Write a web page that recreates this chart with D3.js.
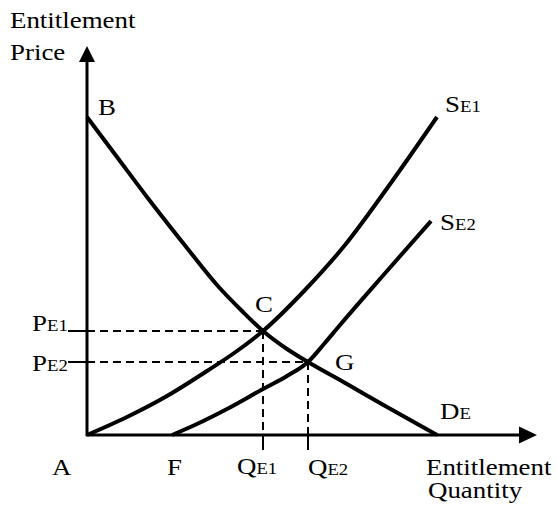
<!DOCTYPE html>
<html>
<head>
<meta charset="utf-8">
<script src="https://cdn.jsdelivr.net/npm/d3@7"></script>
<style>
  html, body { margin: 0; padding: 0; background: #fff; }
  svg { display: block; }
  text { font-family: "Liberation Serif", "Times New Roman", serif; fill: #000; }
</style>
</head>
<body>
<div id="chart"></div>
<script>
// ---- Data (quantity, price) in chart units ----
const demandDE = [[0,318],[30,278],[60,238],[100,187],[130,150],[155,124],[176,104],[200,86],[221,73],[260,51],[300,28],[350,0]];
const supplySE1 = [[0,0],[40,18],[80,39],[120,64],[150,84],[176,104],[218,145],[258,190],[301,248],[350,318]];
const supplySE2 = [[85,0],[110,11],[140,26],[176,46],[200,59],[221,73],[237,91],[253,110],[300,164],[344,214]];
const equilibria = [
  { name: "C", q: 176, p: 104 },
  { name: "G", q: 221, p: 73 }
];
const xDomain = [0, 450];
const yDomain = [0, 389];

// ---- Layout ----
const W = 556, H = 509;
const x = d3.scaleLinear().domain(xDomain).range([87, 537]);
const y = d3.scaleLinear().domain(yDomain).range([435, 46]);
const SX = 1.17, FS = 23, FSsub = 16;

const svg = d3.select("#chart").append("svg").attr("width", W).attr("height", H);

function label(px, py, main, sub) {
  const t = svg.append("text")
    .attr("transform", `translate(${px},${py}) scale(${SX},1)`)
    .attr("font-size", FS);
  t.append("tspan").text(main);
  if (sub) t.append("tspan").attr("font-size", FSsub).text(sub);
  return t;
}

// dashed guides and ticks
equilibria.forEach(e => {
  svg.append("line").attr("x1", x(0)).attr("x2", x(e.q)).attr("y1", y(e.p)).attr("y2", y(e.p))
    .attr("stroke", "#000").attr("stroke-width", 2).attr("stroke-dasharray", "8,5");
  svg.append("line").attr("x1", x(e.q)).attr("x2", x(e.q)).attr("y1", y(e.p)).attr("y2", y(0))
    .attr("stroke", "#000").attr("stroke-width", 2).attr("stroke-dasharray", "8,5");
  svg.append("line").attr("x1", x(0) - 19).attr("x2", x(0)).attr("y1", y(e.p)).attr("y2", y(e.p))
    .attr("stroke", "#000").attr("stroke-width", 2);
  svg.append("line").attr("x1", x(e.q)).attr("x2", x(e.q)).attr("y1", y(0)).attr("y2", y(0) + 15)
    .attr("stroke", "#000").attr("stroke-width", 2);
});

// axes
svg.append("line").attr("x1", x(0)).attr("x2", x(0)).attr("y1", y(0) + 1).attr("y2", y(yDomain[1]) + 14)
  .attr("stroke", "#000").attr("stroke-width", 3);
svg.append("line").attr("x1", x(0) - 1).attr("x2", x(xDomain[1]) - 16).attr("y1", y(0)).attr("y2", y(0))
  .attr("stroke", "#000").attr("stroke-width", 3);
// arrow heads
const ax = x(0), ay = y(yDomain[1]);
svg.append("path").attr("d", `M${ax},${ay} L${ax - 8},${ay + 16} L${ax + 8},${ay + 16} Z`).attr("fill", "#000");
const bx = x(xDomain[1]), by = y(0);
svg.append("path").attr("d", `M${bx},${by} L${bx - 18},${by - 8.5} L${bx - 18},${by + 8.5} Z`).attr("fill", "#000");

// curves
const line = d3.line().x(d => x(d[0])).y(d => y(d[1])).curve(d3.curveMonotoneX);
[demandDE, supplySE1, supplySE2].forEach(s => {
  svg.append("path").attr("d", line(s)).attr("fill", "none")
    .attr("stroke", "#000").attr("stroke-width", 4).attr("stroke-linecap", "butt");
});

// labels
label(10, 28, "Entitlement");
label(10, 60, "Price");
label(426, 475, "Entitlement");
label(428, 498, "Quantity");
label(98, 115, "B");
label(255, 312, "C");
label(335, 370, "G");
label(440, 419, "D", "E");
label(445, 112, "S", "E1");
label(440, 230, "S", "E2");
label(52, 475, "A");
label(167, 475, "F");
label(32, 331, "P", "E1");
label(32, 371, "P", "E2");
label(237, 474, "Q", "E1");
label(308, 475, "Q", "E2");
</script>
</body>
</html>
